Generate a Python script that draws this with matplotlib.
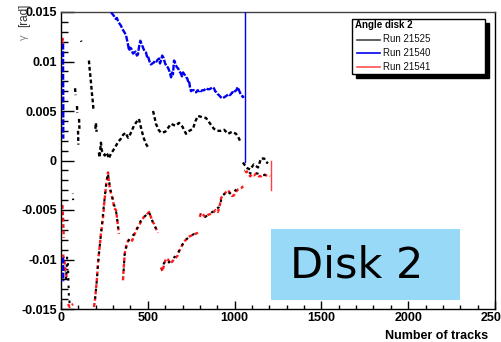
import numpy as np
import matplotlib
matplotlib.use("Agg")
import matplotlib.pyplot as plt
from matplotlib.patches import Rectangle
from matplotlib.lines import Line2D
from matplotlib.ticker import MultipleLocator

nan = np.nan

# Run 21540 (blue): left stub and main curve
BLUE_X = [12, 12, 13, 13, nan, 12, 13, 13, nan,
          288, 296, 305, 315, 322, 330, 338, 346, 353, 360, 367, 374, 380, 385, 392, 398,
          405, 410, 415, 422, 430, 437, 443, 448, 452, 457, 461, 468, 475, 482, 490, 495,
          500, 505, 510, 518, 526, 535, 542, 550, 558, 565, 570, 576, 583, 590, 600, 608,
          616, 625, 634, 640, 645, 651, 655, 660, 668, 675, 682, 690, 697, 703, 710, 715,
          721, 727, 732, 737, 743, 749, 757, 765, 772, 780, 787, 795, 800, 806, 815, 825,
          835, 845, 855, 865, 873, 881, 888, 895, 903, 910, 915, 920, 927, 933, 941, 950,
          958, 965, 972, 979, 987, 995, 1002, 1010, 1015, 1019, 1025, 1030, 1035, 1040,
          1044, 1048, 1054]
BLUE_Y = [0.0118, 0.0090, 0.0060, 0.0022, nan, -0.0098, -0.0110, -0.0122, nan,
          0.0150, 0.0148, 0.0146, 0.0143, 0.0144, 0.0140, 0.0138, 0.0136, 0.0133, 0.0131,
          0.0129, 0.0127, 0.0122, 0.0118, 0.0111, 0.0114, 0.0113, 0.0110, 0.0108, 0.0109,
          0.0110, 0.0106, 0.0107, 0.0113, 0.0117, 0.0121, 0.0119, 0.0116, 0.0113, 0.0110,
          0.0109, 0.0105, 0.0106, 0.0103, 0.0100, 0.0097, 0.0098, 0.0099, 0.0101, 0.0100,
          0.0102, 0.0103, 0.0098, 0.0101, 0.0106, 0.0104, 0.0098, 0.0095, 0.0094, 0.0090,
          0.0084, 0.0089, 0.0087, 0.0101, 0.0100, 0.0097, 0.0094, 0.0093, 0.0090, 0.0088,
          0.0085, 0.0089, 0.0087, 0.0086, 0.0084, 0.0083, 0.0080, 0.0081, 0.0074, 0.0070,
          0.0071, 0.0071, 0.0069, 0.0069, 0.0071, 0.0070, 0.0071, 0.0070, 0.0071, 0.0071,
          0.0073, 0.0072, 0.0072, 0.0073, 0.0074, 0.0073, 0.0070, 0.0069, 0.0067, 0.0066,
          0.0065, 0.0064, 0.0063, 0.0063, 0.0064, 0.0065, 0.0066, 0.0067, 0.0066, 0.0067,
          0.0069, 0.0068, 0.0070, 0.0071, 0.0073, 0.0074, 0.0071, 0.0069, 0.0067, 0.0066,
          0.0065, 0.0064, 0.0065]
# last blue point drawn as a vertical line
BLUE_END_X = [1060, 1060]
BLUE_END_Y = [0.0160, -0.0002]

# Run 21525 (black)
BLACK_X = [81, 84, nan, 92, 94, nan, 98, 100, nan, 104, 106, nan, 115, 118, nan,
           161, 163, 167, 170, 178, 181, 184, 187, nan, 198, 201, 205, nan,
           218, 222, 230, 235, 245, 252, 259, 268, 275, 288, 300, 310, 317, 330, 345,
           358, 372, 386, 400, 420, 435, 449, 465, 478, 492, 507, nan,
           530, 536, 547, 562, 576, 600, 617, 634, 660, 680, 700, 720, 740, 760, 775,
           789, 810, 835, 860, 881, 900, 922, 940, 962, 985, 1008, 1020, 1031, nan,
           1048, 1060, 1075, 1090, 1110, 1135, 1152, 1170, 1180, 1192]
BLACK_Y = [0.0073, 0.0066, nan, 0.0055, 0.0048, nan, 0.0030, 0.0016, nan, 0.0042, 0.0032, nan,
           0.0121, 0.0120, nan,
           0.0101, 0.0096, 0.0089, 0.0084, 0.0068, 0.0063, 0.0058, 0.0051, nan,
           0.0032, 0.0038, 0.0029, nan,
           0.0008, 0.0003, 0.0018, 0.0010, 0.0007, 0.0005, 0.0008, 0.0006, 0.0002, 0.0007,
           0.0010, 0.0013, 0.0015, 0.0019, 0.0022, 0.0026, 0.0028, 0.0023, 0.0027, 0.0035,
           0.0039, 0.0042, 0.0030, 0.0022, 0.0016, 0.0012, nan,
           0.0050, 0.0046, 0.0037, 0.0031, 0.0028, 0.0029, 0.0033, 0.0037, 0.0035, 0.0038,
           0.0034, 0.0027, 0.0030, 0.0032, 0.0040, 0.0045, 0.0044, 0.0043, 0.0037, 0.0032,
           0.0030, 0.0030, 0.0031, 0.0027, 0.0029, 0.0027, 0.0024, 0.0020, nan,
           -0.0002, -0.0005, -0.0008, -0.0009, -0.0004, -0.0007, 0.0002, 0.0002, -0.0001, -0.0003]

# Run 21525 (black) lower branch, lying on top of run 21541
BLACK_LOW_X = [25, 30, 35, 40, 45, 50, 55, nan, 68, 70, nan,
               193, 203, 212, 222, 233, 246, 260, 270, 285, 302, 320, 332, nan,
               359, 366, 380, 398, 418, 440, 462, 485, 507, 526, 545, 558, nan,
               578, 600, 622, 645, 668, 690, 712, 740, 768, 789, nan,
               803, 830, 858, 885, 910, 930, 955, 980, 1005, 1030, nan,
               1055, 1080, 1105, 1130, 1160, 1190]
BLACK_LOW_Y = [-0.0112, -0.0120, -0.0098, -0.0105, -0.0135, -0.0145, -0.0148, nan, -0.0033, -0.0040, nan,
               -0.0145, -0.0128, -0.0108, -0.0088, -0.0070, -0.0047, -0.0024, -0.0013, -0.0030,
               -0.0042, -0.0054, -0.0072, nan,
               -0.0117, -0.0096, -0.0084, -0.0078, -0.0075, -0.0068, -0.0060, -0.0056, -0.0052,
               -0.0061, -0.0068, -0.0073, nan,
               -0.0110, -0.0101, -0.0103, -0.0099, -0.0095, -0.0088, -0.0081, -0.0077, -0.0074,
               -0.0072, nan,
               -0.0054, -0.0057, -0.0054, -0.0050, -0.0047, -0.0036, -0.0031, -0.0034, -0.0030,
               -0.0027, nan,
               -0.0010, -0.0012, -0.0014, -0.0013, -0.0015, -0.0014]

# Run 21541 (red)
RED_X = [8, 9, 10, nan, 8, 10, 12, 14, 16, nan, 12, 20, 25, 35, nan, 40, 50, 60, 70, nan,
         190, 196, 201, 205, 210, 213, 218, 224, 230, 236, 242, 248, 255, 262, 268, 271,
         276, 282, 288, 300, 305, 317, 322, 328, 334, nan,
         357, 360, 363, 368, 375, 386, 400, 410, 420, 435, 449, 465, 478, 492, 507, 520,
         528, 536, 545, 559, nan,
         576, 585, 595, 605, 616, 630, 641, 651, 662, 672, 680, 691, 700, 708, 720, 735,
         749, 762, 775, 789, nan,
         800, 806, 815, 830, 846, 860, 875, 890, 904, 915, 922, 935, 950, 962, 975, 985,
         997, 1010, 1022, 1037, 1050, nan,
         1060, 1070, 1077, 1090, 1100, 1112, 1125, 1140, 1152, 1165, 1180, 1192, 1205]
RED_Y = [0.0120, 0.0123, 0.0118, nan, -0.0045, -0.0052, -0.0058, -0.0068, -0.0078, nan,
         -0.0095, -0.0102, -0.0110, -0.0120, nan, -0.0145, -0.0148, -0.0146, -0.0145, nan,
         -0.0148, -0.0140, -0.0131, -0.0124, -0.0112, -0.0104, -0.0094, -0.0085, -0.0074,
         -0.0066, -0.0058, -0.0045, -0.0033, -0.0022, -0.0015, -0.0012, -0.0022, -0.0028,
         -0.0033, -0.0040, -0.0048, -0.0050, -0.0057, -0.0066, -0.0074, nan,
         -0.0121, -0.0112, -0.0104, -0.0093, -0.0087, -0.0081, -0.0079, -0.0081, -0.0076,
         -0.0070, -0.0066, -0.0060, -0.0057, -0.0055, -0.0052, -0.0058, -0.0062, -0.0064,
         -0.0068, -0.0073, nan,
         -0.0108, -0.0112, -0.0104, -0.0099, -0.0100, -0.0104, -0.0102, -0.0100, -0.0098,
         -0.0096, -0.0092, -0.0088, -0.0085, -0.0082, -0.0080, -0.0077, -0.0076, -0.0075,
         -0.0074, -0.0073, nan,
         -0.0057, -0.0053, -0.0054, -0.0057, -0.0055, -0.0054, -0.0053, -0.0050, -0.0052,
         -0.0045, -0.0038, -0.0035, -0.0032, -0.0030, -0.0033, -0.0036, -0.0035, -0.0031,
         -0.0029, -0.0028, -0.0026, nan,
         -0.0012, -0.0011, -0.0013, -0.0016, -0.0014, -0.0015, -0.0013, -0.0016, -0.0016,
         -0.0014, -0.0015, -0.0015, -0.0016]
RED_END_X = [1210, 1210]
RED_END_Y = [0.0000, -0.0030]

RUN_LABELS = ["Run 21525", "Run 21540", "Run 21541"]
LEGEND_TITLE = "Angle disk 2"
X_TICKS = [0, 500, 1000, 1500, 2000, 2500]
Y_TICKS = [-0.015, -0.01, -0.005, 0, 0.005, 0.01, 0.015]
Y_TICK_LABELS = ["-0.015", "-0.01", "-0.005", "0", "0.005", "0.01", "0.015"]

plt.rcParams["font.family"] = ["Liberation Sans", "DejaVu Sans"]

fig = plt.figure(figsize=(5.02, 3.42), dpi=100)
ax = fig.add_axes([61 / 502, 33 / 342, 434 / 502, 297 / 342])

dash = (0, (1.6, 1.1))
ax.plot(RED_X, RED_Y, color="#ff1a1a", lw=1.7, linestyle=dash, zorder=2)
ax.plot(BLACK_LOW_X, BLACK_LOW_Y, color="black", lw=1.5, linestyle=(1, (1.2, 2.4)), zorder=3)
ax.plot(BLACK_X, BLACK_Y, color="black", lw=1.7, linestyle=dash, zorder=3)
ax.plot(BLUE_X, BLUE_Y, color="#0000ee", lw=1.7, linestyle=(0, (2.5, 0.7)), zorder=4)
ax.plot(BLUE_END_X, BLUE_END_Y, color="#0000ee", lw=1.0, zorder=4)
ax.plot(RED_END_X, RED_END_Y, color="#ff4040", lw=1.0, zorder=4)

ax.set_xlim(0, 2500)
ax.set_ylim(-0.015, 0.015)
ax.set_xticks(X_TICKS)
ax.set_xticklabels([str(t) for t in X_TICKS], fontweight="bold", fontsize=9)
ax.set_yticks(Y_TICKS)
ax.set_yticklabels(Y_TICK_LABELS, fontweight="bold", fontsize=9)
ax.xaxis.set_minor_locator(MultipleLocator(100))
ax.yaxis.set_minor_locator(MultipleLocator(0.001))
ax.tick_params(axis="y", which="major", direction="in", length=9, width=1, pad=3)
ax.tick_params(axis="y", which="minor", direction="in", length=5, width=1)
ax.tick_params(axis="x", which="major", direction="in", length=6, width=1, pad=2)
ax.tick_params(axis="x", which="minor", direction="in", length=3, width=1)
for s in ax.spines.values():
    s.set_linewidth(1.0)
ax.spines["top"].set_color("#444444")

ax.set_xlabel("Number of tracks", fontweight="bold", fontsize=9)
ax.xaxis.set_label_coords(0.985, -0.07)
ax.xaxis.label.set_horizontalalignment("right")

fig.text(24 / 502, 1 - 4 / 342, "[rad]", rotation=90, ha="center", va="top",
         fontsize=8.5, color="#333333")
fig.text(24 / 502, 1 - 34 / 342, "γ", rotation=90, ha="center", va="top",
         fontsize=8, color="#888888")


def px_to_ax(px, py):
    return (px - 61) / 434, (309 - py) / 297


# legend box drawn by hand (ROOT style with solid shadow)
x0, y0 = px_to_ax(356, 78)
x1, y1 = px_to_ax(489, 23)
ax.add_patch(Rectangle((x0, y0), x1 - x0, y1 - y0, transform=ax.transAxes,
                       facecolor="black", edgecolor="black", zorder=8, clip_on=False))
x0, y0 = px_to_ax(352, 74)
x1, y1 = px_to_ax(485, 19)
ax.add_patch(Rectangle((x0, y0), x1 - x0, y1 - y0, transform=ax.transAxes,
                       facecolor="white", edgecolor="black", lw=1.0, zorder=9, clip_on=False))
tx, ty = px_to_ax(355, 25)
ax.text(tx, ty, LEGEND_TITLE, transform=ax.transAxes, fontsize=7, fontweight="bold",
        ha="left", va="center", zorder=10)
legend_colors = ["#444444", "#0000ee", "#ff5050"]
for i, (label, color) in enumerate(zip(RUN_LABELS, legend_colors)):
    row_py = 39.5 + 13.5 * i
    lx0, ly = px_to_ax(357, row_py)
    lx1, _ = px_to_ax(380, row_py)
    ax.add_line(Line2D([lx0, lx1], [ly, ly], transform=ax.transAxes, color=color,
                       lw=1.2, zorder=10, clip_on=False))
    tx, _ = px_to_ax(383, row_py)
    ax.text(tx, ly, label, transform=ax.transAxes, fontsize=7, ha="left",
            va="center", zorder=10, color="#111111")

# "Disk 2" banner
fig.patches.append(Rectangle((271 / 502, 1 - 300 / 342), 189 / 502, 71 / 342,
                             transform=fig.transFigure, facecolor="#97d9f7",
                             edgecolor="none", zorder=5))
fig.text(357 / 502, 1 - 266 / 342, "Disk 2", ha="center", va="center",
         fontsize=31, family="DejaVu Sans", color="black", zorder=6)

fig.savefig("out.png", dpi=100)
